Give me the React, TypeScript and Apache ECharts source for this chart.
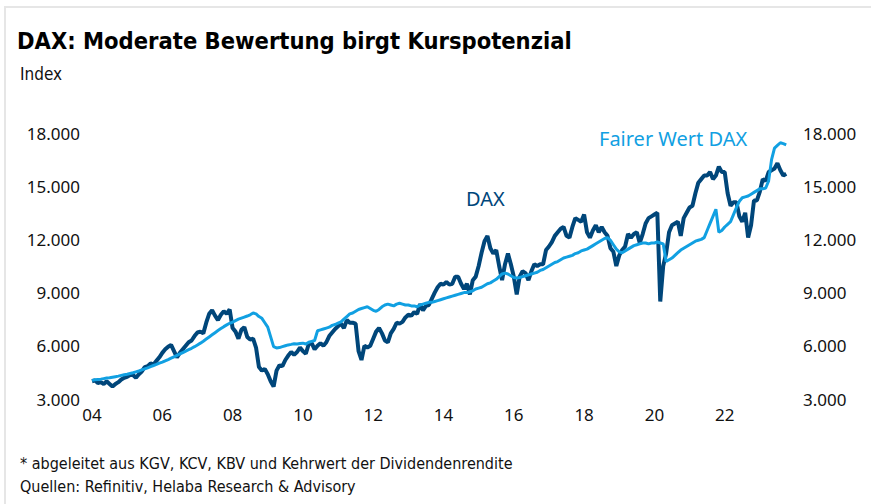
import React, { useEffect, useRef } from 'react';
import * as echarts from 'echarts';

const START_YEAR = 2004;

// Monthly values, Jan 2004 .. Oct 2023
const daxValues = [
  // 2004
  4000, 4050, 3900, 3950, 3850, 4000, 3850, 3700, 3850, 3950, 4100, 4200,
  // 2005
  4250, 4350, 4350, 4200, 4400, 4550, 4800, 4850, 5000, 4950, 5150, 5350,
  // 2006
  5600, 5800, 5950, 6050, 5700, 5350, 5600, 5800, 6000, 6200, 6300, 6550,
  // 2007
  6750, 6800, 6700, 7300, 7800, 8000, 7700, 7450, 7750, 7950, 7800, 8050,
  // 2008
  7000, 6800, 6400, 6900, 7050, 6500, 6350, 6400, 5900, 4800, 4600, 4700,
  // 2009
  4400, 4000, 3700, 4600, 4900, 4850, 5200, 5450, 5650, 5500, 5650, 5900,
  // 2010
  5700, 5550, 6100, 6150, 5800, 6000, 6150, 6000, 6200, 6550, 6750, 6950,
  // 2011
  7100, 7250, 7000, 7450, 7300, 7300, 7250, 5700, 5200, 6000, 5900, 6000,
  // 2012
  6400, 6800, 7000, 6700, 6300, 6200, 6700, 6950, 7300, 7250, 7350, 7600,
  // 2013
  7750, 7700, 7900, 7800, 8350, 8000, 8250, 8300, 8650, 9000, 9300, 9500,
  // 2014
  9450, 9600, 9450, 9500, 9900, 9900, 9500, 9200, 9500, 8900, 9700, 9900,
  // 2015
  10500, 11250, 11900, 12200, 11500, 11200, 11400, 10500, 9700, 10600, 11200, 10600,
  // 2016
  9900, 8900, 9900, 10200, 10100, 9700, 10200, 10600, 10500, 10600, 10600, 11400,
  // 2017
  11600, 11850, 12200, 12400, 12600, 12700, 12200, 12100, 12700, 13200, 13100, 13000,
  // 2018
  13400, 12400, 12100, 12500, 12800, 12400, 12700, 12400, 12200, 11500, 11300, 10500,
  // 2019
  11100, 11400, 11600, 12300, 12100, 12300, 12400, 11800, 12300, 12900, 13200, 13300,
  // 2020
  13400, 13500, 8500, 10500, 11200, 12400, 12800, 12900, 13000, 12200, 13200, 13500,
  // 2021
  13800, 13900, 14600, 15200, 15400, 15600, 15600, 15800, 15400, 15600, 16100, 15800,
  // 2022
  15800, 14600, 13900, 14100, 14100, 13300, 13000, 13500, 12100, 12800, 14200, 14200,
  // 2023
  14700, 15400, 15300, 15800, 15900, 16000, 16300, 15900, 15600, 15700,
];

const fairValues = [
  // 2004
  4050, 4080, 4100, 4120, 4150, 4180, 4200, 4230, 4260, 4290, 4330, 4370,
  // 2005
  4400, 4440, 4480, 4530, 4580, 4640, 4700, 4760, 4830, 4890, 4950, 5020,
  // 2006
  5080, 5150, 5220, 5300, 5380, 5460, 5540, 5620, 5700, 5780, 5860, 5950,
  // 2007
  6050, 6150, 6260, 6380, 6500, 6620, 6740, 6860, 6970, 7080, 7180, 7270,
  // 2008
  7340, 7420, 7500, 7560, 7620, 7680, 7750, 7850, 7800, 7650, 7550, 7300,
  // 2009
  7050, 6500, 5950, 5880, 5900, 5950, 6000, 6050, 6080, 6120, 6100, 6130,
  // 2010
  6150, 6100, 6200, 6250, 6300, 6850, 6900, 6950, 7000, 7050, 7150, 7200,
  // 2011
  7280, 7350, 7500, 7650, 7800, 7850, 7950, 8050, 8100, 8150, 8200, 8100,
  // 2012
  8000, 7950, 8050, 8200, 8300, 8350, 8300, 8250, 8350, 8400, 8350, 8300,
  // 2013
  8300, 8250, 8250, 8200, 8300, 8350, 8400, 8450, 8450, 8500, 8550, 8600,
  // 2014
  8650, 8700, 8750, 8800, 8850, 8900, 8950, 9000, 9000, 9050, 9100, 9200,
  // 2015
  9250, 9300, 9400, 9500, 9550, 9650, 9750, 9900, 10050, 10100, 10050, 9950,
  // 2016
  9850, 9820, 9850, 9900, 9950, 10000, 10050, 10100, 10150, 10250, 10300, 10400,
  // 2017
  10500, 10600, 10700, 10750, 10850, 10950, 11000, 11050, 11100, 11200, 11250, 11350,
  // 2018
  11400, 11450, 11550, 11650, 11750, 11850, 11950, 12050, 12100, 11950, 11700, 11450,
  // 2019
  11300, 11250, 11350, 11450, 11550, 11650, 11700, 11750, 11800, 11800, 11750, 11800,
  // 2020
  11800, 11850, 11800, 11750, 10750, 10850, 10950, 11100, 11250, 11400, 11500, 11600,
  // 2021
  11700, 11800, 11900, 11950, 12000, 12100, 12500, 12900, 13300, 13700, 12400, 12500,
  // 2022
  12700, 12850, 13000, 13400, 13800, 14150, 14350, 14400, 14450, 14550, 14650, 14750,
  // 2023
  14850, 14850, 14900, 15300, 16500, 17150, 17300, 17450, 17400, 17330,
];

const X_MIN = 2004;
const X_MAX = 2024;
const X_INTERVAL = 2;
const Y_MIN = 3000;
const Y_MAX = 18000;
const Y_INTERVAL = 3000;

const TITLE = 'DAX: Moderate Bewertung birgt Kurspotenzial';
const SUBTITLE = 'Index';
const NOTE1 = '* abgeleitet aus KGV, KCV, KBV und Kehrwert der Dividendenrendite';
const NOTE2 = 'Quellen: Refinitiv, Helaba Research & Advisory';
const DAX_LABEL = 'DAX';
const FAIR_LABEL = 'Fairer Wert DAX';

const DAX_COLOR = '#00467a';
const FAIR_COLOR = '#11a0e2';
const NARROW = "'DejaVu Sans Condensed', 'Noto Sans', sans-serif";
const SANS = "'Noto Sans', 'Open Sans', sans-serif";

const toPairs = (vals: number[]) => vals.map((v, i) => [START_YEAR + i / 12, v]);

const fmtThousands = (v: number) => {
  const s = Math.round(v).toString();
  return s.replace(/\B(?=(\d{3})+(?!\d))/g, '.');
};

export default function App() {
  const ref = useRef<HTMLDivElement>(null);
  useEffect(() => {
    const chart = echarts.init(ref.current!, null, { renderer: 'svg' });
    const yAxisCommon = {
      type: 'value',
      min: Y_MIN,
      max: Y_MAX,
      interval: Y_INTERVAL,
      axisLine: { show: false },
      axisTick: { show: false },
      splitLine: { show: false },
    };
    chart.setOption({
      animation: false,
      backgroundColor: '#ffffff',
      grid: { left: 92, right: 76, top: 133, bottom: 105, containLabel: false },
      xAxis: {
        type: 'value',
        min: X_MIN,
        max: X_MAX,
        interval: X_INTERVAL,
        axisLine: { show: false },
        axisTick: { show: false },
        splitLine: { show: false },
        axisLabel: {
          margin: 7,
          fontFamily: SANS,
          fontSize: 17,
          color: '#111',
          formatter: (v: number) => (v >= X_MAX ? '' : String(v % 100).padStart(2, '0')),
        },
      },
      yAxis: [
        {
          ...yAxisCommon,
          position: 'left',
          axisLabel: { margin: 12, fontFamily: SANS, fontSize: 17, color: '#111', formatter: fmtThousands },
        },
        {
          ...yAxisCommon,
          position: 'right',
          axisLabel: { margin: 8, fontFamily: SANS, fontSize: 17, color: '#111', formatter: fmtThousands },
        },
      ],
      series: [
        {
          name: DAX_LABEL,
          type: 'line',
          data: toPairs(daxValues),
          showSymbol: false,
          lineStyle: { color: DAX_COLOR, width: 4 },
          itemStyle: { color: DAX_COLOR },
          z: 2,
        },
        {
          name: FAIR_LABEL,
          type: 'line',
          data: toPairs(fairValues),
          showSymbol: false,
          lineStyle: { color: FAIR_COLOR, width: 3 },
          itemStyle: { color: FAIR_COLOR },
          z: 3,
        },
      ],
      graphic: [
        { type: 'rect', shape: { x: 4, y: 6, width: 867, height: 2 }, style: { fill: '#e6e6e6' }, silent: true },
        { type: 'rect', shape: { x: 4, y: 6, width: 2, height: 498 }, style: { fill: '#e6e6e6' }, silent: true },
        {
          type: 'text', left: 17, top: 29,
          style: { text: TITLE, font: `bold 23.5px ${NARROW}`, fill: '#000' },
        },
        {
          type: 'text', left: 20, top: 65,
          style: { text: SUBTITLE, font: `17px ${NARROW}`, fill: '#111' },
        },
        {
          type: 'text', left: 466, top: 188,
          style: { text: DAX_LABEL, font: `20px ${SANS}`, fill: DAX_COLOR },
        },
        {
          type: 'text', left: 599, top: 128,
          style: { text: FAIR_LABEL, font: `20px ${SANS}`, fill: FAIR_COLOR },
        },
        {
          type: 'text', left: 20, top: 455,
          style: { text: NOTE1, font: `16px ${NARROW}`, fill: '#111' },
        },
        {
          type: 'text', left: 20, top: 478,
          style: { text: NOTE2, font: `16px ${NARROW}`, fill: '#111' },
        },
      ],
    });
    return () => chart.dispose();
  }, []);
  return (
    <div
      ref={ref}
      style={{ position: 'fixed', left: 0, top: 0, width: 871, height: 504, background: '#fff' }}
    />
  );
}
